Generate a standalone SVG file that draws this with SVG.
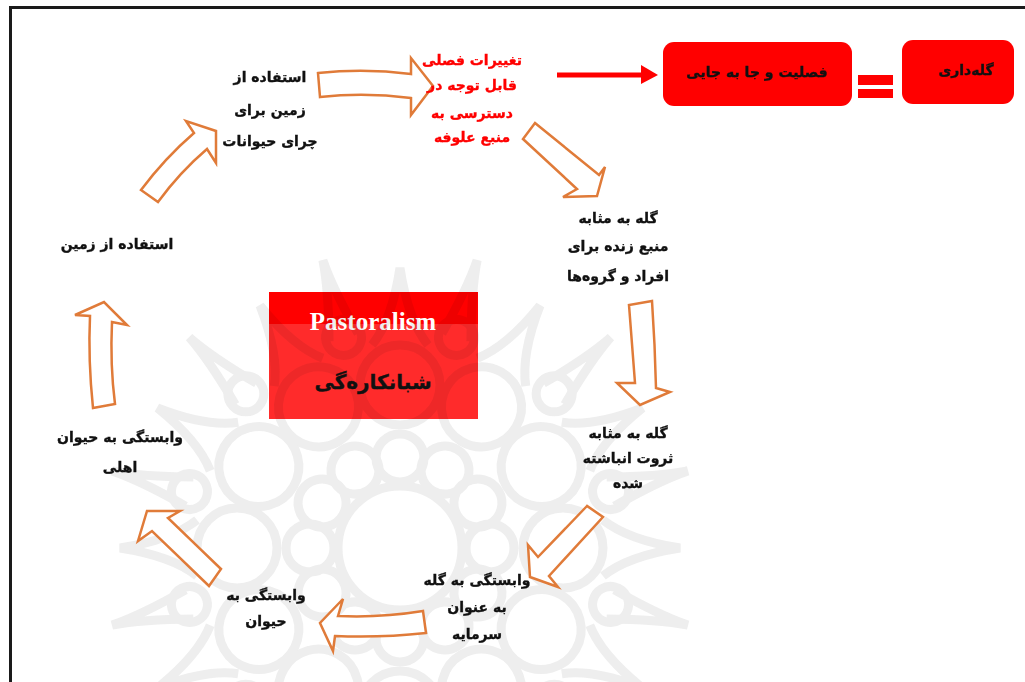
<svg xmlns="http://www.w3.org/2000/svg" xmlns:xlink="http://www.w3.org/1999/xlink" width="1025" height="682" viewBox="0 0 1025 682">
<style>
.t{font-family:"DejaVu Sans","Noto Sans",sans-serif;font-weight:bold;font-size:14px;fill:#111;stroke:#111;stroke-width:0.35;text-anchor:middle}
.red{fill:#ff0000;stroke:#ff0000}
.r{fill:#ff0000}
.ar{fill:#fff;stroke:#E07B39;stroke-width:2.5;stroke-linejoin:miter}
.wm{fill:none;stroke:#d4d4d4;stroke-width:9}
</style>
<defs>
<g id="petal">
<circle cx="400" cy="458" r="24"/>
<circle cx="400" cy="385" r="40"/>
<path d="M372,345 Q392,320 400,268 Q408,320 428,345"/>
</g>
<g id="spike">
<path d="M385,330 Q398,280 400,250 Q402,280 415,330"/>
<circle cx="400" cy="330" r="18"/>
</g>
</defs>
<rect width="1025" height="682" fill="#fff"/>
<path d="M10.5,682 V7.5 H1025" fill="none" stroke="#1a1a1a" stroke-width="3"/>

<g id="center">
<rect x="269" y="292" width="209" height="127" fill="#ff2b2b"/>
<rect x="269" y="292" width="209" height="32" fill="#ff0000"/>
<text x="373" y="330" font-family="Liberation Serif,serif" font-weight="bold" font-size="25" fill="#fff" text-anchor="middle">Pastoralism</text>
<text class="t" x="373" y="389" style="font-size:20px">شبانکاره‌گی</text>
</g>

<g id="watermark" opacity="0.4" style="mix-blend-mode:multiply">
<g class="wm">
<use xlink:href="#petal"/>
<use xlink:href="#petal" transform="rotate(30 400 548)"/>
<use xlink:href="#petal" transform="rotate(60 400 548)"/>
<use xlink:href="#petal" transform="rotate(90 400 548)"/>
<use xlink:href="#petal" transform="rotate(120 400 548)"/>
<use xlink:href="#petal" transform="rotate(150 400 548)"/>
<use xlink:href="#petal" transform="rotate(180 400 548)"/>
<use xlink:href="#petal" transform="rotate(210 400 548)"/>
<use xlink:href="#petal" transform="rotate(240 400 548)"/>
<use xlink:href="#petal" transform="rotate(270 400 548)"/>
<use xlink:href="#petal" transform="rotate(300 400 548)"/>
<use xlink:href="#petal" transform="rotate(330 400 548)"/>
<use xlink:href="#spike" transform="rotate(15 400 548)"/>
<use xlink:href="#spike" transform="rotate(45 400 548)"/>
<use xlink:href="#spike" transform="rotate(75 400 548)"/>
<use xlink:href="#spike" transform="rotate(105 400 548)"/>
<use xlink:href="#spike" transform="rotate(135 400 548)"/>
<use xlink:href="#spike" transform="rotate(165 400 548)"/>
<use xlink:href="#spike" transform="rotate(195 400 548)"/>
<use xlink:href="#spike" transform="rotate(225 400 548)"/>
<use xlink:href="#spike" transform="rotate(255 400 548)"/>
<use xlink:href="#spike" transform="rotate(285 400 548)"/>
<use xlink:href="#spike" transform="rotate(315 400 548)"/>
<use xlink:href="#spike" transform="rotate(345 400 548)"/>
<circle cx="400" cy="548" r="62"/>
</g>
</g>

<g id="connectors">
<path class="ar" d="M318,73 Q365,68 411,74 L411,58 L433,86 L411,115 L411,98 Q365,92 320,97 Z"/>
<path class="ar" d="M535,123 L599,175 L605,167 L597,196 L563,197 L577,189 L523,139 Z"/>
<path class="ar" d="M629,305 Q632,345 635,383 L617,383 L640,405 L670,392 L656,388 Q655,345 652,301 Z"/>
<path class="ar" d="M587,506 L538,557 L528,545 L530,577 L558,587 L549,576 L603,517 Z"/>
<path class="ar" d="M423,611 Q380,618 338,616 L343,599 L320,623 L333,651 L335,636 Q380,638 426,633 Z"/>
<path class="ar" d="M147,511 L180,511 L168,518 L221,569 L209,586 L152,531 L138,541 Z"/>
<path class="ar" d="M93,408 Q88,360 90,316 L75,315 L104,302 L127,325 L112,322 Q110,365 115,404 Z"/>
<path class="ar" d="M141,190 Q165,158 194,133 L186,121 L216,131 L216,163 L207,149 Q180,172 158,202 Z"/>
<line x1="557" y1="75" x2="642" y2="75" stroke="#ff0000" stroke-width="5"/>
<polygon points="641,65 658,75 641,84" fill="#ff0000"/>
<rect x="858" y="75" width="35" height="10" fill="#ff0000"/>
<rect x="858" y="89" width="35" height="9" fill="#ff0000"/>
</g>

<g id="box-fasliyat">
<rect class="r" x="663" y="42" width="189" height="64" rx="11"/>
<text class="t" x="757" y="77">فصلیت و جا به جایی</text>
</g>
<g id="box-galedari">
<rect class="r" x="902" y="40" width="112" height="64" rx="11"/>
<text class="t" x="966" y="75">گله‌داری</text>
</g>

<g id="n1">
<text class="t" x="270" y="82">استفاده از</text>
<text class="t" x="270" y="115">زمین  برای</text>
<text class="t" x="270" y="146">چرای حیوانات</text>
</g>
<g id="n2">
<text class="t red" x="472" y="65">تغییرات فصلی</text>
<text class="t red" x="472" y="90">قابل توجه در</text>
<text class="t red" x="472" y="118">دسترسی به</text>
<text class="t red" x="472" y="142">منبع علوفه</text>
</g>
<g id="n3">
<text class="t" x="618" y="223">گله به مثابه</text>
<text class="t" x="618" y="251">منبع زنده برای</text>
<text class="t" x="618" y="281">افراد و گروه‌ها</text>
</g>
<g id="n4">
<text class="t" x="628" y="438">گله به مثابه</text>
<text class="t" x="628" y="463">ثروت انباشته</text>
<text class="t" x="628" y="488">شده</text>
</g>
<g id="n5">
<text class="t" x="477" y="585">وابستگی به گله</text>
<text class="t" x="477" y="612">به عنوان</text>
<text class="t" x="477" y="639">سرمایه</text>
</g>
<g id="n6">
<text class="t" x="266" y="600">وابستگی به</text>
<text class="t" x="266" y="626">حیوان</text>
</g>
<g id="n7">
<text class="t" x="120" y="442">وابستگی به حیوان</text>
<text class="t" x="120" y="472">اهلی</text>
</g>
<g id="n8">
<text class="t" x="117" y="249">استفاده از زمین</text>
</g>
</svg>
